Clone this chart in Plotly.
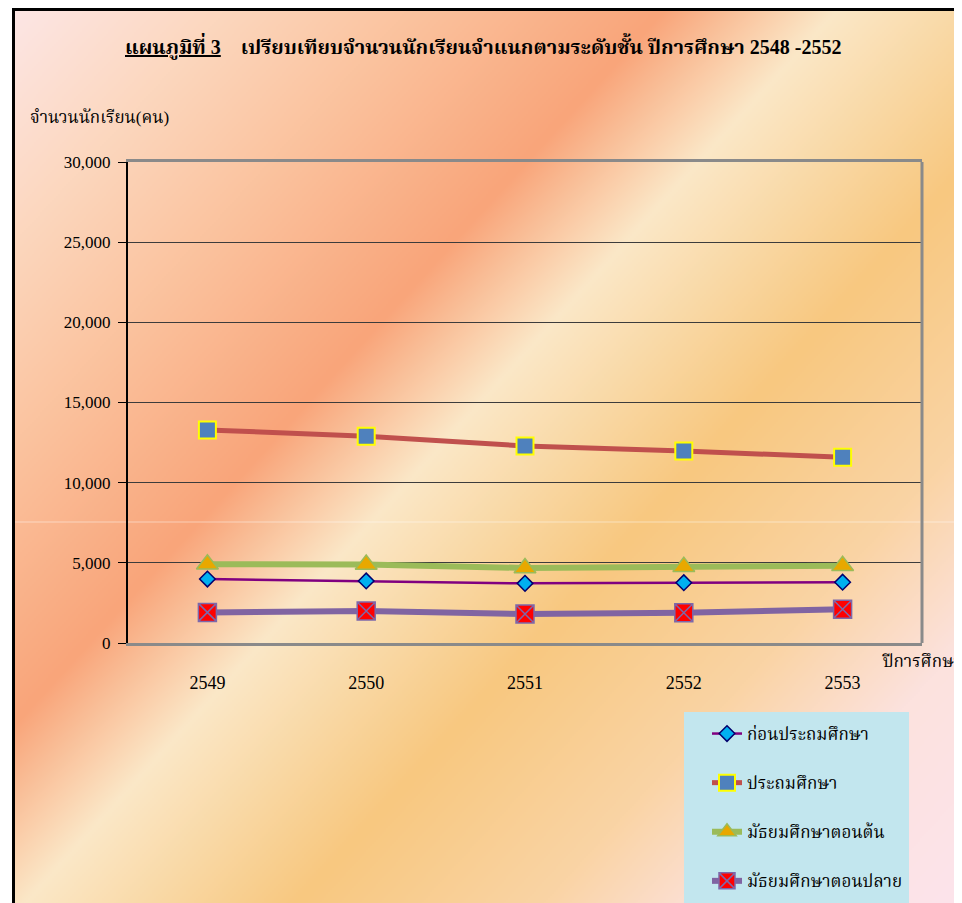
import base64
import struct
import zlib

import numpy as np
import plotly.graph_objects as go

# ---------------- data ----------------
years = ["2549", "2550", "2551", "2552", "2553"]
series_names = ["ก่อนประถมศึกษา", "ประถมศึกษา", "มัธยมศึกษาตอนต้น", "มัธยมศึกษาตอนปลาย"]
preprimary = [3990, 3870, 3720, 3760, 3790]
primary = [13290, 12900, 12290, 11980, 11580]
lower_secondary = [4910, 4900, 4680, 4760, 4820]
upper_secondary = [1910, 2000, 1810, 1890, 2100]
y_tick_values = [0, 5000, 10000, 15000, 20000, 25000, 30000]
y_tick_labels = ["0", "5,000", "10,000", "15,000", "20,000", "25,000", "30,000"]

title_main = "แผนภูมิที่ 3"
title_rest = "เปรียบเทียบจำนวนนักเรียนจำแนกตามระดับชั้น ปีการศึกษา 2548 -2552"
y_title = "จำนวนนักเรียน(คน)"
x_title = "ปีการศึกษา"

# ---------------- geometry helpers ----------------
# the page body has an 8px margin, so the figure is placed 8px in from the
# window's top-left corner; coordinates below are window pixels.
OFF = 8
VW, VH = 962, 903
W, H = VW, VH
L_win, T_win, R_win, B_win = 128, 162, 922, 643
L, T = L_win - OFF, T_win - OFF
PW, PH = R_win - L_win, B_win - T_win
R, B = W - L - PW, H - T - PH


def px(x):
    return (x - L_win) / PW


def py(y):
    return 1 - (y - T_win) / PH


def cx(x):
    return (x - OFF) / W


def cy(y):
    return 1 - (y - OFF) / H


# ---------------- gradient background image ----------------
def make_bg(w, h, scale, x0, y0):
    xs = x0 + (np.arange(w) + 0.5) * scale
    ys = y0 + (np.arange(h) + 0.5) * scale
    X, Y = np.meshgrid(xs, ys)
    t = 1.1 * X + Y
    stops = [0, 260, 460, 740, 930, 1230, 1500, 1700, 2000]
    cols = np.array([
        (253, 232, 234),
        (252, 215, 190),
        (251, 196, 160),
        (249, 165, 122),
        (251, 232, 200),
        (248, 200, 128),
        (250, 212, 165),
        (252, 226, 222),
        (252, 228, 238),
    ], dtype=float)
    img = np.zeros((h, w, 3), dtype=np.uint8)
    for c in range(3):
        img[:, :, c] = np.clip(np.interp(t, stops, cols[:, c]), 0, 255).astype(np.uint8)
    return img


def png_uri(arr):
    h, w, _ = arr.shape
    raw = b"".join(b"\x00" + arr[i].tobytes() for i in range(h))

    def chunk(tag, data):
        return (struct.pack(">I", len(data)) + tag + data
                + struct.pack(">I", zlib.crc32(tag + data) & 0xFFFFFFFF))

    png = (b"\x89PNG\r\n\x1a\n"
           + chunk(b"IHDR", struct.pack(">IIBBBBB", w, h, 8, 2, 0, 0, 0))
           + chunk(b"IDAT", zlib.compress(raw, 9))
           + chunk(b"IEND", b""))
    return "data:image/png;base64," + base64.b64encode(png).decode()


BG_X0, BG_Y0 = 13, 9
bg_w, bg_h = (VW + OFF - BG_X0) // 2 + 1, (VH + OFF - BG_Y0) // 2 + 1
bg_uri = png_uri(make_bg(bg_w, bg_h, 2, BG_X0, BG_Y0))

SERIF = "Liberation Serif, Times New Roman, Noto Serif Thai, Noto Sans Thai, serif"

fig = go.Figure()

fig.add_trace(go.Scatter(
    x=years, y=preprimary, name=series_names[0], legendgroup="a",
    mode="lines+markers",
    line=dict(color="#800080", width=2.5),
    marker=dict(symbol="diamond", size=12, color="#00b0f0",
                line=dict(color="#00006e", width=1.5)),
))
fig.add_trace(go.Scatter(
    x=years, y=primary, name=series_names[1], legendgroup="b",
    mode="lines+markers",
    line=dict(color="#c0504d", width=5),
    marker=dict(symbol="square", size=17, color="#4f81bd",
                line=dict(color="#ffff00", width=2)),
))
fig.add_trace(go.Scatter(
    x=years, y=lower_secondary, name=series_names[2], legendgroup="c",
    mode="lines+markers",
    line=dict(color="#9bbb59", width=6),
    marker=dict(symbol="triangle-up", size=19, color="#e8a800",
                line=dict(color="#9bbb59", width=1.5)),
))
fig.add_trace(go.Scatter(
    x=years, y=upper_secondary, name=series_names[3], legendgroup="d",
    mode="lines+markers",
    line=dict(color="#8064a2", width=6),
    marker=dict(symbol="square-x", size=18, color="#ff0000",
                line=dict(color="#7d68aa", width=1.5)),
))

fig.update_layout(
    width=W, height=H, autosize=False,
    margin=dict(l=L, r=R, t=T, b=B, pad=0, autoexpand=False),
    paper_bgcolor="white",
    plot_bgcolor="rgba(0,0,0,0)",
    font=dict(family=SERIF, size=17, color="black"),
    showlegend=True,
    legend=dict(
        xref="container", yref="container",
        x=cx(707), y=cy(716), xanchor="left", yanchor="top",
        bgcolor="rgba(0,0,0,0)", borderwidth=0,
        font=dict(family=SERIF, size=17, color="black"),
        tracegroupgap=24, itemwidth=30,
    ),
    xaxis=dict(
        type="category", range=[-0.5, 4.5],
        showline=True, mirror=True, linecolor="#8a8a8a", linewidth=3,
        showgrid=False, ticks="", ticklabelstandoff=21,
        tickfont=dict(family=SERIF, size=18, color="black"),
    ),
    yaxis=dict(
        range=[0, 30000], tickvals=y_tick_values, ticktext=y_tick_labels,
        showline=True, linecolor="black", linewidth=2,
        showgrid=True, gridcolor="#3c3c3c", gridwidth=1,
        zeroline=False,
        ticks="outside", ticklen=8, tickcolor="black", tickwidth=1,
        ticklabelstandoff=4,
        tickfont=dict(family=SERIF, size=17, color="black"),
    ),
    images=[dict(
        source=bg_uri, xref="paper", yref="paper",
        x=px(BG_X0), y=py(BG_Y0),
        sizex=(bg_w * 2) / PW, sizey=(bg_h * 2) / PH,
        xanchor="left", yanchor="top", sizing="stretch", layer="below",
    )],
    shapes=[
        # faint horizontal seam in background
        dict(type="line", xref="paper", yref="paper",
             x0=px(14), x1=px(VW + 20), y0=py(522), y1=py(522),
             line=dict(color="rgba(255,255,255,0.45)", width=1), layer="below"),
        # right border of plot area
        dict(type="line", xref="paper", yref="paper",
             x0=1, x1=1, y0=0, y1=1,
             line=dict(color="#8a8a8a", width=3), layer="above"),
        # legend background box
        dict(type="rect", xref="paper", yref="paper",
             x0=px(684), x1=px(909), y0=py(712), y1=py(VH + 20),
             fillcolor="#c2e6ee", line=dict(width=0), layer="below"),
        # outer black frame
        dict(type="rect", xref="paper", yref="paper",
             x0=px(13.5), x1=px(VW + 40), y0=py(9.5), y1=py(VH + 40),
             fillcolor="rgba(0,0,0,0)", line=dict(color="black", width=3),
             layer="above"),
    ],
    annotations=[
        dict(text="<b><u>" + title_main + "</u>\u00a0\u00a0\u00a0\u00a0" + title_rest + "</b>",
             xref="paper", yref="paper", x=px(123), y=py(46),
             xanchor="left", yanchor="middle", showarrow=False,
             font=dict(family=SERIF, size=20, color="black")),
        dict(text=y_title, xref="paper", yref="paper", x=px(28), y=py(117),
             xanchor="left", yanchor="middle", showarrow=False,
             font=dict(family=SERIF, size=17, color="black")),
        dict(text=x_title, xref="paper", yref="paper", x=px(880), y=py(661),
             xanchor="left", yanchor="middle", showarrow=False,
             font=dict(family=SERIF, size=17, color="black")),
    ],
)

fig.write_html("out.html")
